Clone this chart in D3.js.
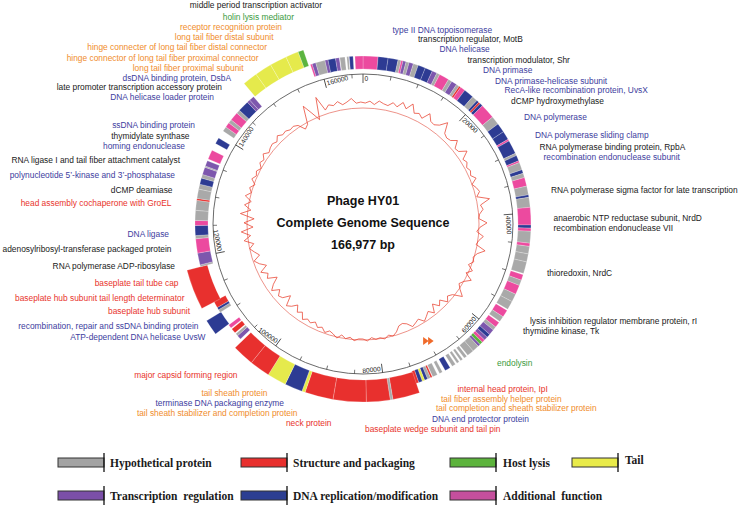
<!DOCTYPE html>
<html><head><meta charset="utf-8">
<script src="https://cdn.jsdelivr.net/npm/d3@7"></script>
<style>
body{margin:0;background:#fff;}
svg{display:block;}
</style></head>
<body>
<svg id="chart" width="740" height="508"></svg>
<script>
// ---------------- DATA ----------------
const genomeLength = 166977;
const genomeTitle = ["Phage HY01", "Complete Genome Sequence", "166,977 bp"];

const categoryKeys = ["H", "S", "L", "T", "R", "D", "A"];
const categoryNames = ["Hypothetical protein", "Structure and packaging", "Host lysis", "Tail",
  "Transcription  regulation", "DNA replication/modification", "Additional  function"];

// genes: [start, end, category, track]  (track 0 = normal, 1 = thick, 2 = outer, 3 = offset)
const genes = [
  [0,2400,"A",0],[2400,4000,"D",0],[4000,5600,"D",0],[5600,6100,"H",0],[6100,6400,"A",0],[6400,6900,"R",0],
  [6900,7400,"H",0],[7400,8100,"R",0],[8100,8900,"H",0],[8900,10100,"D",0],[10100,11300,"D",0],[11300,12100,"R",0],
  [12100,12600,"H",0],[12600,14200,"A",0],[14200,14800,"H",0],[14800,15700,"R",0],[15700,16200,"H",0],[16200,16500,"S",0],
  [16500,17300,"A",0],[17300,18900,"D",0],[18900,19800,"H",0],[19800,20200,"D",0],[20200,20500,"S",0],[20500,21000,"D",0],
  [21000,23400,"A",0],[23400,24800,"H",0],[24800,26300,"D",0],[26300,27700,"D",0],[27700,28000,"A",0],[28000,30200,"D",0],
  [30200,30600,"H",0],[30600,31500,"D",0],[31500,31800,"A",0],[31800,33000,"H",0],[33000,33600,"D",0],[33600,34300,"H",0],
  [34300,35700,"A",0],[35700,37100,"H",0],[37100,37500,"D",0],[37500,39100,"H",0],[39100,41900,"A",0],[41900,42400,"D",0],
  [42400,42900,"A",0],[42900,44800,"H",0],[44800,45300,"A",0],[45300,46500,"H",0],[46500,47800,"H",0],[47800,49700,"H",0],
  [49900,50800,"A",0],[50800,51700,"H",0],[51700,53200,"A",0],[53200,54500,"H",0],[54500,55900,"H",0],[56100,57300,"A",0],
  [57300,58200,"H",0],[58400,59300,"A",0],[59300,59900,"H",0],[59900,60800,"R",0],[60800,61400,"D",0],[61400,62000,"R",0],
  [62000,62500,"A",0],[62500,63000,"L",0],[63000,63400,"R",0],[63400,64500,"H",0],[64500,65600,"H",0],[65800,66300,"H",0],
  [66600,67000,"H",0],[67300,67700,"H",0],[68000,68600,"H",0],[69000,69900,"D",0],[70400,70900,"H",0],[71300,72100,"H",0],
  [72200,72500,"S",0],[72500,73000,"H",0],[73000,73500,"D",0],[73500,73900,"T",0],[73900,74500,"D",0],[74500,75000,"S",0],
  [74900,79000,"S",1],[79000,79400,"H",1],[79400,83000,"S",1],[83000,88000,"S",1],[88000,92300,"S",1],[92300,92800,"T",1],
  [92800,95500,"D",1],[95500,98400,"T",1],[98400,101500,"S",1],[101500,104800,"S",1],
  [105200,105900,"R",0],[105900,106300,"H",0],[106500,107300,"S",0],[107500,108100,"A",0],[108200,110500,"D",2],
  [110500,111000,"H",0],[111000,111400,"D",0],[111400,112500,"S",0],[112400,118400,"S",3],[118400,118700,"H",0],
  [118700,120600,"R",0],[120600,122900,"A",0],[122900,123400,"H",0],[123400,125000,"D",0],[125000,125800,"A",0],
  [125800,127400,"H",0],[127400,129000,"H",0],[129000,129300,"S",0],[129300,130800,"H",0],[130800,131600,"H",0],
  [131600,132600,"D",0],[132600,133200,"H",0],[133200,134400,"R",0],[134400,134600,"H",0],[134600,135500,"R",0],
  [135800,137300,"A",0],[138500,139500,"D",0],[140800,141600,"H",0],[141600,142400,"A",0],[142400,143000,"H",0],
  [143000,144400,"A",0],[144400,145000,"H",0],[145000,146800,"D",0],[146800,147300,"R",0],[147300,148100,"R",0],
  [148300,150500,"T",2],[150500,153000,"T",2],[153000,155500,"T",2],[155500,157400,"T",2],[157400,158200,"L",2],
  [158500,158800,"A",0],[158800,159400,"R",0],[159400,160900,"H",0],[160900,161400,"R",0],[161400,162600,"D",0],
  [162600,163200,"R",0],[163300,164100,"H",0],[164400,164700,"H",0],[164800,165400,"D",0],[165700,166977,"A",0]
];

const tickValues = [0, 20000, 40000, 60000, 80000, 100000, 120000, 140000, 160000];

// GC content (%) per 1 kb window
const gcContent = [
  37.5,38.5,37,39,38,37.5,39.5,38,41,38.5,
  42,38,39,37.5,41.5,38.5,38,39.5,43,38,
  37,37.5,40,36.5,37,40.5,36.5,37.5,36,37,
  36,38,35,36.5,37.5,35.5,41.5,36.5,37.5,35.5,
  35,39,35.5,34,37.5,35.5,34.5,39.5,36,34.5,
  35.5,33.5,36.5,34,38,35,33.5,35.5,38.5,34,
  32.5,34.5,31,33,30,34,31.5,33,34.5,32,
  33,34,31.5,30.5,31,33.5,35,34,35.5,34.5,
  35,34,35.5,34.5,34.5,35.5,34,35,33.5,35.5,
  34,33,34.5,32.5,33.5,31.5,33,32,33.5,30.5,
  32,29,31.5,33,28,31.5,32.5,30,33.5,31,
  27.5,32,30.5,33.5,29.5,32.5,34.5,31,33,35,
  32.5,37,33.5,38,32,36.5,31.5,38.5,33.5,37,
  34,37.5,35,36.5,34.5,37,35.5,36.5,35,37,
  36,38,36,37,37.5,36.5,38.5,37,37.5,36.5,
  37,36,32.5,34,43,38,33.5,44.5,37,39,
  38,39.5,37.5,38.5,40,37.5,38
];
const gcAverage = 35.0;
const markerPositions = [70000];

// gene annotations: text and functional class of the text colour
const labelTexts = [
  "middle period transcription activator","holin lysis mediator","receptor recognition protein",
  "long tail fiber distal subunit","hinge connecter of long tail fiber distal connector",
  "hinge connector of long tail fiber proximal connector","long tail fiber proximal subunit",
  "dsDNA binding protein, DsbA","late promoter transcription accessory protein","DNA helicase loader protein",
  "ssDNA binding protein","thymidylate synthase","homing endonuclease",
  "RNA ligase I and tail fiber attachment catalyst","polynucleotide 5\u2019-kinase and 3\u2019-phosphatase",
  "dCMP deamiase","head assembly cochaperone with GroEL","DNA ligase",
  "adenosylribosyl-transferase packaged protein","RNA polymerase ADP-ribosylase","baseplate tail tube cap",
  "baseplate hub subunit tail length determinator","baseplate hub subunit",
  "recombination, repair and ssDNA binding protein","ATP-dependent DNA helicase UvsW",
  "major capsid forming region","tail sheath protein","terminase DNA packaging enzyme",
  "tail sheath stabilizer and completion protein","neck protein","baseplate wedge subunit and tail pin",
  "type II DNA topoisomerase","transcription regulator, MotB","DNA helicase","transcription modulator, Shr",
  "DNA primase","DNA primase-helicase subunit","RecA-like recombination protein, UvsX","dCMP hydroxymethylase",
  "DNA polymerase","DNA polymerase sliding clamp","RNA polymerase binding protein, RpbA",
  "recombination endonuclease subunit","RNA polymerase sigma factor for late transcription",
  "anaerobic NTP reductase subunit, NrdD","recombination endonuclease VII","thioredoxin, NrdC",
  "lysis inhibition regulator membrane protein, rI","thymidine kinase, Tk","endolysin",
  "internal head protein, IpI","tail fiber assembly helper protein",
  "tail completion and sheath stabilizer protein","DNA end protector protein"
];
const labelClasses = [
  "k","g","o","o","o","o","o","b","k","b",
  "b","k","b","k","b","k","r","b","k","k","r","r","r","b","b",
  "r","o","b","o","r","r",
  "b","k","b","k","b","b","b","k","b","b","k","b","k","k","k","k","k","k","g",
  "r","o","o","b"
];

// ---------------- LAYOUT ----------------
const labelLayout = [
  [322,8,"end"],[294,19.5,"end"],[282,29.5,"end"],[273.5,39.5,"end"],[267,49.5,"end"],[258.5,60.5,"end"],
  [243.5,70.5,"end"],[231,80.5,"end"],[222,90,"end"],[214,100,"end"],[195,128,"end"],[189.5,138.5,"end"],
  [185,149,"end"],[180,163,"end"],[175,178,"end"],[172.5,193,"end"],[171.5,205.5,"end"],[169,237,"end"],
  [171.5,252,"end"],[175,269,"end"],[178.5,286,"end"],[184.5,300.5,"end"],[190,314,"end"],[198.5,329,"end"],
  [205.5,339.5,"end"],[237.5,378,"end"],[267.5,395.5,"end"],[284,405.5,"end"],[297.5,415.5,"end"],
  [331.5,426,"end"],[500.5,432,"end"],
  [392.5,33,"start"],[418,42,"start"],[439.5,52,"start"],[467.5,63,"start"],[483,73,"start"],[495,84,"start"],
  [504.5,93,"start"],[511,103.5,"start"],[524,120,"start"],[535,138,"start"],[539.5,149.5,"start"],
  [543.5,160,"start"],[551,193,"start"],[553.5,221,"start"],[553.5,231,"start"],[547,276,"start"],
  [530,323.5,"start"],[523,333.5,"start"],[497,365.5,"start"],[457.5,392,"start"],[441,402,"start"],
  [436,411,"start"],[432,422,"start"]
];

const W = 740, H = 508, cx = 363, cy = 224;
const axisR = 150, gcBaseR = 116, gcPxPerPct = 2.0;
const trackRadii = [[155, 168], [156, 178], [167, 184], [161, 182]];

const ringColors = {H:"#a9a9a9", S:"#e8302e", L:"#5bb43f", T:"#e5ea4c", R:"#7d57ad", D:"#2d3b93", A:"#ec4a9f"};
const legendColors = {H:"#a3a3a3", S:"#e8302e", L:"#5cb33c", T:"#e9eb4a", R:"#7b4fa8", D:"#2c3e92", A:"#c54f9d"};
const textColors = {k:"#1a1a1a", b:"#3d3d9e", o:"#f08c2c", r:"#e8342c", g:"#3a9a3e"};

const svg = d3.select("#chart");
const angle = d3.scaleLinear().domain([0, genomeLength]).range([0, 2 * Math.PI]);
const rGC = d3.scaleLinear().domain([gcAverage, gcAverage + 1]).range([gcBaseR, gcBaseR + gcPxPerPct]);

const g = svg.append("g").attr("transform", `translate(${cx},${cy})`);

// gene blocks
const arc = d3.arc();
g.selectAll("path.gene").data(genes).join("path")
  .attr("class", "gene")
  .attr("d", d => arc({innerRadius: trackRadii[d[3]][0], outerRadius: trackRadii[d[3]][1],
                       startAngle: angle(d[0]), endAngle: angle(d[1])}))
  .attr("fill", d => ringColors[d[2]])
  .attr("stroke", "#ffffff").attr("stroke-opacity", 0.55).attr("stroke-width", 0.4);

// axis circle
g.append("circle").attr("r", axisR).attr("fill", "none").attr("stroke", "#444").attr("stroke-width", 0.8);

// minor ticks
const minorTicks = d3.range(0, genomeLength, 5000).filter(v => v % 20000 !== 0);
g.selectAll("line.minor").data(minorTicks).join("line")
  .attr("class", "minor")
  .attr("transform", d => `rotate(${angle(d) * 180 / Math.PI})`)
  .attr("x1", 0).attr("x2", 0).attr("y1", -axisR).attr("y2", -axisR + 4)
  .attr("stroke", "#444").attr("stroke-width", 0.7);

// major ticks with labels
const major = g.selectAll("g.major").data(tickValues).join("g")
  .attr("class", "major")
  .attr("transform", d => `rotate(${angle(d) * 180 / Math.PI}) translate(0,${-axisR})`);
major.append("line").attr("x1", 0).attr("x2", 0).attr("y1", 0).attr("y2", 9)
  .attr("stroke", "#333").attr("stroke-width", 0.8);
major.append("text")
  .attr("font-family", "Liberation Sans, Arial, sans-serif").attr("font-size", 6.6).attr("fill", "#222")
  .each(function(d) {
    const deg = angle(d) * 180 / Math.PI;
    const flip = deg > 90 && deg < 270;
    const t = d3.select(this);
    if (flip) t.attr("transform", "rotate(180)").attr("x", -1.5).attr("y", -2).attr("text-anchor", "end");
    else t.attr("x", 1.5).attr("y", 7).attr("text-anchor", "start");
  })
  .text(d => String(d));

// GC content line
g.append("circle").attr("r", gcBaseR).attr("fill", "none").attr("stroke", "#e04a3a").attr("stroke-width", 0.6);
const gcLine = d3.lineRadial().curve(d3.curveLinearClosed)
  .angle((d, i) => angle(i * 1000 + 500)).radius(d => rGC(d));
g.append("path").attr("d", gcLine(gcContent)).attr("fill", "none")
  .attr("stroke", "#e8402e").attr("stroke-width", 0.75);

// orange markers
markerPositions.forEach(p => {
  const a = angle(p), r = 134;
  const mx = r * Math.sin(a), my = -r * Math.cos(a);
  [-5, 0].forEach(dx => {
    g.append("path").attr("d", `M${mx + dx},${my - 4} L${mx + dx + 5.5},${my} L${mx + dx},${my + 4} Z`)
      .attr("fill", "#f06a2a");
  });
});

// centre title
g.selectAll("text.title").data(genomeTitle).join("text")
  .attr("class", "title")
  .attr("x", 0).attr("y", (d, i) => -19 + i * 22)
  .attr("text-anchor", "middle")
  .attr("font-family", "Liberation Sans, Arial, sans-serif").attr("font-weight", "bold")
  .attr("font-size", 12.5).attr("fill", "#111")
  .text(d => d);

// annotation labels
svg.selectAll("text.lab").data(labelTexts).join("text")
  .attr("class", "lab")
  .attr("x", (d, i) => labelLayout[i][0]).attr("y", (d, i) => labelLayout[i][1])
  .attr("text-anchor", (d, i) => labelLayout[i][2])
  .attr("font-family", "Liberation Sans, Arial, sans-serif").attr("font-size", 8.4)
  .attr("fill", (d, i) => textColors[labelClasses[i]])
  .text(d => d);

// legend
const legendPos = [[58, 458, 110], [241, 458, 293], [450, 458, 503], [572, 458, 625],
                   [58, 491, 110], [241, 491, 293], [450, 491, 503]];
const lg = svg.selectAll("g.legend").data(categoryKeys).join("g").attr("class", "legend");
lg.append("rect")
  .attr("x", (d, i) => legendPos[i][0]).attr("y", (d, i) => legendPos[i][1])
  .attr("width", 46).attr("height", 9)
  .attr("fill", d => legendColors[d]).attr("stroke", "#333").attr("stroke-width", 1);
lg.append("line")
  .attr("x1", (d, i) => legendPos[i][0] + 46).attr("x2", (d, i) => legendPos[i][0] + 46)
  .attr("y1", (d, i) => legendPos[i][1] - 5).attr("y2", (d, i) => legendPos[i][1] + 14)
  .attr("stroke", "#111").attr("stroke-width", 1.3);
lg.append("text")
  .attr("x", (d, i) => legendPos[i][2]).attr("y", (d, i) => legendPos[i][1] + (d === "T" ? 5.5 : 8.5))
  .attr("font-family", "Liberation Serif, Times New Roman, serif").attr("font-weight", "bold")
  .attr("font-size", 11.5).attr("fill", "#1a1a1a").style("white-space", "pre")
  .text((d, i) => categoryNames[i]);
</script>
</body></html>
